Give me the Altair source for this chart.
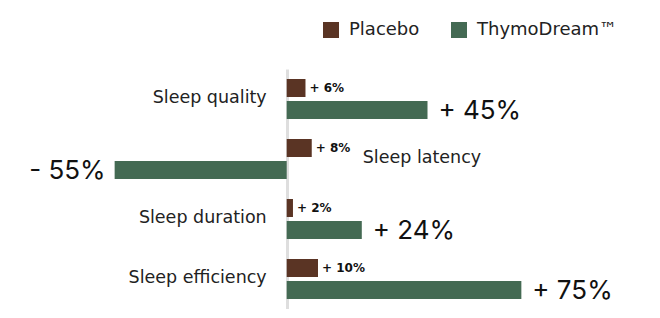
import altair as alt
import pandas as pd

categories = ["Sleep quality", "Sleep latency", "Sleep duration", "Sleep efficiency"]
placebo = [6, 8, 2, 10]
thymo = [45, -55, 24, 75]
series_names = ["Placebo", "ThymoDream™"]
colors = ["#5a3424", "#446a53"]

def fmt(v):
    return ("+ " if v >= 0 else "- ") + f"{abs(v)}%"

rows = []
for c, p, t in zip(categories, placebo, thymo):
    rows.append({"cat": c, "series": series_names[0], "value": p, "label": fmt(p), "sign": 1 if t >= 0 else -1})
    rows.append({"cat": c, "series": series_names[1], "value": t, "label": fmt(t), "sign": 1 if t >= 0 else -1})
df = pd.DataFrame(rows)

FONT = "DejaVu Sans"
BIG_FONT = "Inter"

x = alt.X("value:Q", scale=alt.Scale(domain=[-60, 80], nice=False, zero=False),
          axis=alt.Axis(values=[0], grid=True, gridColor="#dedede", gridWidth=3,
                        labels=False, ticks=False, domain=False, title=None))
y = alt.Y("cat:N", axis=None,
          scale=alt.Scale(domain=categories, paddingInner=1/3, paddingOuter=1/6))
yoff = alt.YOffset("series:N",
                   scale=alt.Scale(domain=series_names, paddingInner=4/22, paddingOuter=0))

base = alt.Chart(df)

bars = base.mark_bar().encode(
    x=x, y=y, yOffset=yoff,
    color=alt.Color("series:N",
                    scale=alt.Scale(domain=series_names, range=colors),
                    legend=alt.Legend(title=None, orient="none", direction="horizontal",
                                      legendX=223, legendY=-48, symbolType="square",
                                      symbolSize=256, symbolStrokeWidth=0,
                                      labelFontSize=18, labelFont=FONT, labelColor="#222",
                                      labelOffset=9, columnPadding=30, padding=0,
                                      labelLimit=300, symbolOpacity=1)),
)

placebo_txt = base.transform_filter(alt.datum.series == series_names[0]).mark_text(
    align="left", baseline="middle", dx=4, fontSize=12, fontWeight="bold", font=FONT, color="#111"
).encode(x=x, y=y, yOffset=yoff, text="label:N")

thymo_pos = base.transform_filter(
    (alt.datum.series == series_names[1]) & (alt.datum.value >= 0)
).mark_text(align="left", baseline="middle", dx=11, dy=1, fontSize=26, font=BIG_FONT, color="#111").encode(
    x=x, y=y, yOffset=yoff, text="label:N")

thymo_neg = base.transform_filter(
    (alt.datum.series == series_names[1]) & (alt.datum.value < 0)
).mark_text(align="right", baseline="middle", dx=-9, dy=1, fontSize=26, font=BIG_FONT, color="#111").encode(
    x=x, y=y, yOffset=yoff, text="label:N")

cat_base = base.transform_filter(alt.datum.series == series_names[1])

cat_pos = cat_base.transform_filter(alt.datum.sign > 0).mark_text(
    align="right", baseline="middle", dx=-20, dy=-12, fontSize=17.5, font=FONT, color="#222"
).encode(x=alt.datum(0), y=y, yOffset=yoff, text="cat:N")

cat_neg = cat_base.transform_filter(alt.datum.sign < 0).mark_text(
    align="left", baseline="middle", dx=76, dy=-12, fontSize=17.5, font=FONT, color="#222"
).encode(x=alt.datum(0), y=y, yOffset=yoff, text="cat:N")

chart = alt.layer(bars, placebo_txt, thymo_pos, thymo_neg, cat_pos, cat_neg).properties(
    width=438, height=240,
    autosize=alt.AutoSizeParams(type="none"),
    padding={"left": 91, "top": 61, "right": 100, "bottom": 0},
    background="#ffffff",
).configure_view(stroke=None)

chart.save("out.html", embed_options={"renderer": "svg", "actions": False})
